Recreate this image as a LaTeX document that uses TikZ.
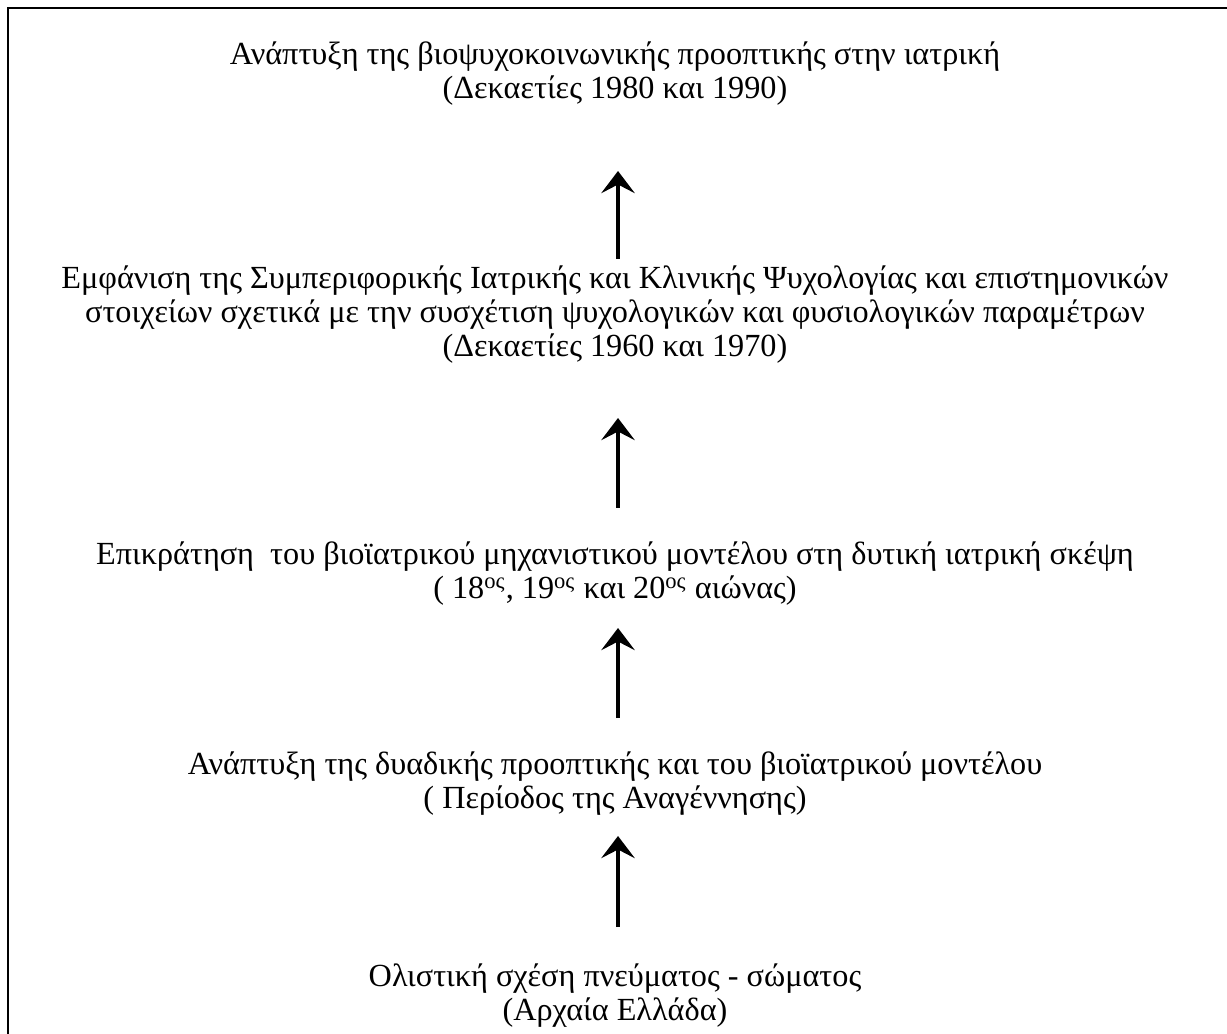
\documentclass[tikz,border=0pt]{standalone}
\usepackage{fontspec}
\setmainfont{Liberation Serif}
\usetikzlibrary{arrows.meta}
\begin{document}
\begin{tikzpicture}[x=0.4065pt,y=-0.4065pt,
  txt/.style={align=center,font=\fontsize{13.1pt}{13.8pt}\selectfont,inner sep=0pt},
  arr/.style={line width=1.6pt,-{Stealth[width=13.6pt,length=9pt,inset=3.5pt]}},
  frame/.style={line width=0.8pt}]
\useasboundingbox (0,0) rectangle (1227,1034);
\draw[frame] (8,1034) coordinate (fb) -- (8,8) coordinate (fc) -- (1227,8) coordinate (fr);
\node[txt] (n1) at (615,74) {Ανάπτυξη της βιοψυχοκοινωνικής προοπτικής στην ιατρική\\(Δεκαετίες 1980 και 1990)};
\node[txt] (n2) at (615,315) {Εμφάνιση της Συμπεριφορικής Ιατρικής και Κλινικής Ψυχολογίας και επιστημονικών\\στοιχείων σχετικά με την συσχέτιση ψυχολογικών και φυσιολογικών παραμέτρων\\(Δεκαετίες 1960 και 1970)};
\node[txt] (n3) at (615,574) {Επικράτηση\ \ του βιοϊατρικού μηχανιστικού μοντέλου στη δυτική ιατρική σκέψη\\( 18\textsuperscript{ος}, 19\textsuperscript{ος} και 20\textsuperscript{ος} αιώνας)};
\node[txt] (n4) at (615,784) {Ανάπτυξη της δυαδικής προοπτικής και του βιοϊατρικού μοντέλου\\( Περίοδος της Αναγέννησης)};
\node[txt] (n5) at (615,996) {Ολιστική σχέση πνεύματος - σώματος\\(Αρχαία Ελλάδα)};
\coordinate (a1s) at (618,259); \coordinate (a1e) at (618,171);
\coordinate (a2s) at (618,508); \coordinate (a2e) at (618,418);
\coordinate (a3s) at (618,718); \coordinate (a3e) at (618,628);
\coordinate (a4s) at (618,927); \coordinate (a4e) at (618,836);
\draw[arr] (a1s) -- (a1e);
\draw[arr] (a2s) -- (a2e);
\draw[arr] (a3s) -- (a3e);
\draw[arr] (a4s) -- (a4e);
\end{tikzpicture}
\end{document}
